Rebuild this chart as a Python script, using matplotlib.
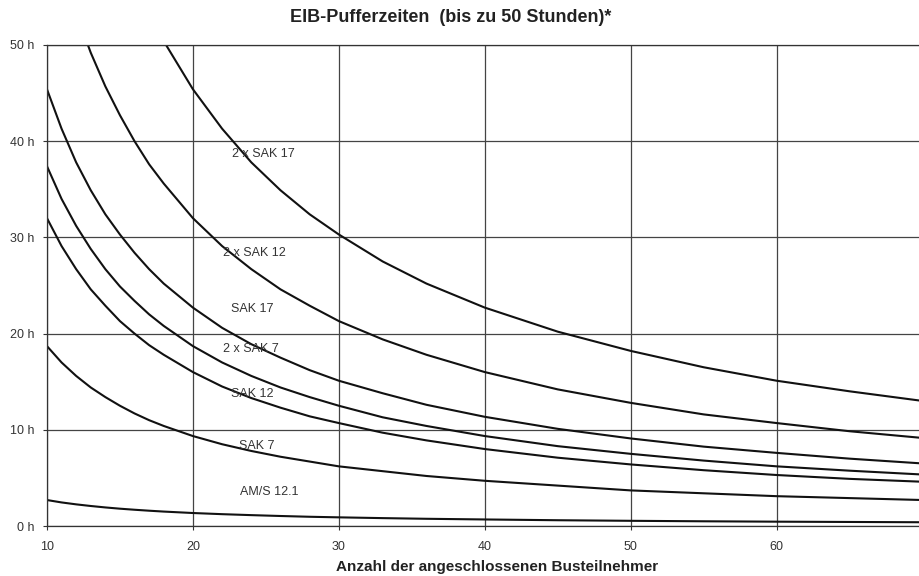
import matplotlib
matplotlib.use("Agg")
import matplotlib.pyplot as plt

plt.rcParams['font.family'] = ['Liberation Sans', 'DejaVu Sans']

teilnehmer = [10, 11, 12, 13, 14, 15, 16, 17, 18, 20, 22, 24, 26, 28, 30,
              33, 36, 40, 45, 50, 55, 60, 65, 70]

ams_12_1 = [2.7, 2.45, 2.25, 2.08, 1.93, 1.8, 1.69, 1.59, 1.5, 1.35, 1.23, 1.13,
            1.04, 0.96, 0.9, 0.82, 0.75, 0.68, 0.6, 0.54, 0.49, 0.45, 0.42, 0.39]
sak_7 = [18.7, 17.0, 15.6, 14.4, 13.4, 12.5, 11.7, 11.0, 10.4, 9.35, 8.5, 7.8,
         7.2, 6.7, 6.2, 5.7, 5.2, 4.7, 4.2, 3.7, 3.4, 3.1, 2.9, 2.7]
sak_12 = [32.0, 29.1, 26.7, 24.6, 22.9, 21.3, 20.0, 18.8, 17.8, 16.0, 14.5, 13.3,
          12.3, 11.4, 10.7, 9.7, 8.9, 8.0, 7.1, 6.4, 5.8, 5.3, 4.9, 4.6]
sak_7_x2 = [37.4, 34.0, 31.2, 28.8, 26.7, 24.9, 23.4, 22.0, 20.8, 18.7, 17.0, 15.6,
            14.4, 13.4, 12.5, 11.3, 10.4, 9.35, 8.3, 7.5, 6.8, 6.2, 5.75, 5.35]
sak_17 = [45.4, 41.3, 37.8, 34.9, 32.4, 30.3, 28.4, 26.7, 25.2, 22.7, 20.6, 18.9,
          17.5, 16.2, 15.1, 13.8, 12.6, 11.35, 10.1, 9.1, 8.25, 7.6, 7.0, 6.5]
sak_12_x2 = [64.0, 58.2, 53.3, 49.2, 45.7, 42.7, 40.0, 37.6, 35.6, 32.0, 29.1, 26.7,
             24.6, 22.9, 21.3, 19.4, 17.8, 16.0, 14.2, 12.8, 11.6, 10.7, 9.85, 9.15]
sak_17_x2 = [90.8, 82.5, 75.7, 69.8, 64.9, 60.5, 56.8, 53.4, 50.4, 45.4, 41.3, 37.8,
             34.9, 32.4, 30.3, 27.5, 25.2, 22.7, 20.2, 18.2, 16.5, 15.1, 14.0, 13.0]

kurven = [ams_12_1, sak_7, sak_12, sak_7_x2, sak_17, sak_12_x2, sak_17_x2]
namen = ["AM/S 12.1", "SAK 7", "SAK 12", "2 x SAK 7", "SAK 17", "2 x SAK 12", "2 x SAK 17"]
label_pos = [(25.2, 3.5), (24.4, 8.3), (24.1, 13.7), (24.0, 18.4),
             (24.1, 22.6), (24.2, 28.4), (24.8, 38.7)]

x_ticks = [10, 20, 30, 40, 50, 60]
y_ticks = [0, 10, 20, 30, 40, 50]
y_labels = ["0 h", "10 h", "20 h", "30 h", "40 h", "50 h"]

fig = plt.figure(figsize=(9.19, 5.76), dpi=100)
ax = fig.add_axes([0.0511, 0.0868, 0.9489, 0.8351])

for werte in kurven:
    ax.plot(teilnehmer, werte, color='#111111', lw=1.5, clip_on=True)

for name, (lx, ly) in zip(namen, label_pos):
    ax.text(lx, ly, name, ha='center', va='center', fontsize=9, color='#333333')

ax.set_xlim(10, 69.75)
ax.set_ylim(0, 50)
ax.set_xticks(x_ticks)
ax.set_yticks(y_ticks)
ax.set_yticklabels(y_labels)
ax.tick_params(labelsize=9, colors='#333333', length=3, width=0.8)
ax.tick_params(axis='x', pad=8)
ax.tick_params(axis='y', pad=6)
ax.grid(True, color='#444444', lw=0.9)
ax.set_axisbelow(True)
for s in ['left', 'bottom', 'top']:
    ax.spines[s].set_color('#333333')
    ax.spines[s].set_linewidth(0.9)
ax.spines['right'].set_visible(False)

fig.text(451 / 919, 1 - 17 / 576, "EIB-Pufferzeiten  (bis zu 50 Stunden)*",
         ha='center', va='center', fontsize=13, fontweight='bold', color='#222222')
fig.text(497 / 919, 1 - 567 / 576, "Anzahl der angeschlossenen Busteilnehmer",
         ha='center', va='center', fontsize=11, fontweight='bold', color='#222222')

fig.savefig("out.png", dpi=100)
